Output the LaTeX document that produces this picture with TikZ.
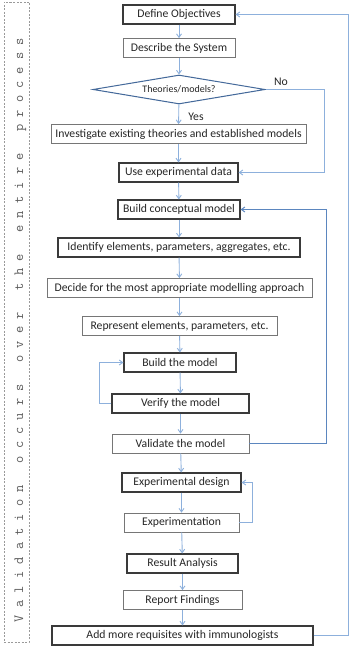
\documentclass[tikz,border=0pt]{standalone}
\usepackage{fontspec}
\setmainfont{Carlito}
\usetikzlibrary{arrows.meta,positioning,shapes.geometric}
\definecolor{ink}{HTML}{262626}
\definecolor{edge}{HTML}{3A3A3A}
\definecolor{edgelt}{HTML}{767676}
\definecolor{flow}{HTML}{8DB0DC}
\definecolor{loopc}{HTML}{5B86BF}
\definecolor{dia}{HTML}{44699A}
\definecolor{framec}{HTML}{9A9A9A}
\definecolor{vtextc}{HTML}{5A5A5A}
\tikzset{
  block/.style={draw=edge, fill=white, line width=1.1pt, text=ink,
                font=\fontsize{11.7}{13}\selectfont, minimum height=19pt, inner sep=0pt},
  blocklt/.style={block, draw=edgelt, line width=0.8pt},
  arrow/.style={-{Straight Barb[length=3.5pt,width=5pt]}, line width=0.9pt, draw=flow},
  fback/.style={arrow, draw=loopc, line width=1pt},
  tag/.style={text=ink, font=\fontsize{11.7}{13}\selectfont, inner sep=0pt}
}

\begin{document}
\begin{tikzpicture}[x=1pt,y=-1pt]
        \useasboundingbox (0,0) rectangle (354,668);

        % validation side bar
        \node[draw=framec, dashed, dash pattern=on 2pt off 1.5pt, line width=0.6pt,
              minimum width=25pt, minimum height=640pt, inner sep=0pt] (valbox) at (16.5,322) {};
        \node[rotate=90, anchor=base, text=vtextc, inner sep=0pt,
              font=\ttfamily\fontsize{14}{16}\selectfont] (valtext) at (23,330)
          {V a l i d a t i o n~~~o c c u r s~~~o v e r~~~t h e~~~e n t i r e~~~p r o c e s s};

        % main column of steps
        \foreach \nm/\x/\y/\w/\sty/\lab in {
          defobj/179/14.5/112/block/{Define Objectives},
          describe/179/48/112/blocklt/{Describe the System},
          invest/178.5/134/255/blocklt/{Investigate existing theories and established models},
          useexp/178.5/172.5/119/block/{Use experimental data},
          concept/179/209.5/122/block/{Build conceptual model},
          identify/179/247.5/242/block/{Identify elements, parameters, aggregates, etc.},
          decide/179.5/288/265/blocklt/{Decide for the most appropriate modelling approach},
          represent/179.5/326/195/blocklt/{Represent elements, parameters, etc.},
          buildm/180/362.5/112/block/{Build the model},
          verify/180.5/403.5/137/block/{Verify the model},
          validate/180.5/443.5/137/blocklt/{Validate the model},
          expdesign/181.5/482.5/119/block/{Experimental design},
          experiment/181.5/522.5/115/blocklt/{Experimentation},
          result/182.5/563.5/111/block/{Result Analysis},
          report/182.5/600/119/blocklt/{Report Findings},
          addreq/182.5/635.5/261/block/{Add more requisites with immunologists}} {
          \node[\sty, minimum width=\w pt] (\nm) at (\x,\y) {\lab};
        }

        % decision
        \node[diamond, draw=dia, fill=white, line width=1pt, aspect=5.9, inner sep=0pt,
              minimum width=172pt, minimum height=29pt, text=ink,
              font=\fontsize{10}{12}\selectfont] (theory) at (179,89.5) {Theories/models?};
        \node[tag] (nolab) at (281,82) {No};
        \node[tag] (yeslab) at (196,116.5) {Yes};

        % downward flow
        \foreach \a/\b in {defobj/describe,describe/theory,theory/invest,invest/useexp,
                           useexp/concept,concept/identify,identify/decide,decide/represent,
                           represent/buildm,buildm/verify,verify/validate,validate/expdesign,
                           expdesign/experiment,experiment/result,result/report,report/addreq} {
          \draw[arrow] (\a) -- (\b);
        }

        % side branches and loops
        \draw[arrow] (theory.east) -- ++(59,0) |- (useexp.east);
        \draw[fback] (validate.east) -- ++(77,0) |- (concept.east);
        \draw[arrow] (verify.west) -- ++(-12,0) |- (buildm.west);
        \draw[arrow] (experiment.east) -- ++(13,0) |- (expdesign.east);
        \draw[arrow] (addreq.east) -- ++(35,0) |- (defobj.east);
\end{tikzpicture}
\end{document}
